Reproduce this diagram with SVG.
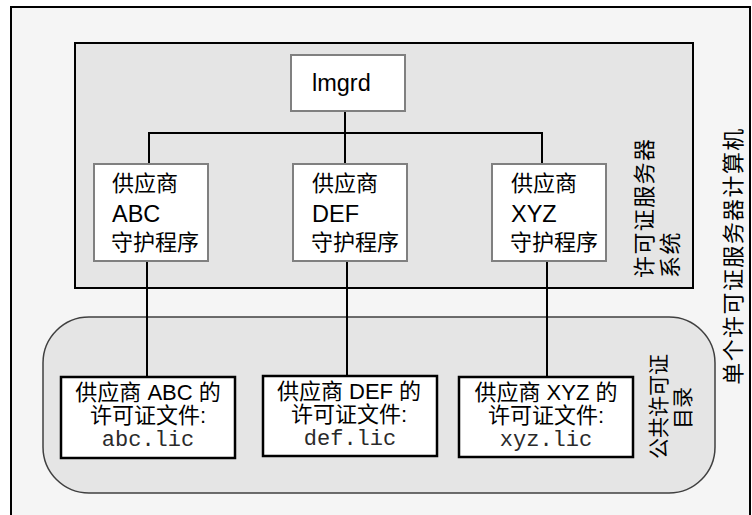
<svg xmlns="http://www.w3.org/2000/svg" width="752" height="515" viewBox="0 0 752 515">
<style>
.t{font-family:"Liberation Sans","Noto Sans CJK SC",sans-serif;font-size:22px;fill:#000}
.L{font-size:23.5px}
.m{font-family:"Liberation Mono","Noto Sans CJK SC",monospace;font-size:22px;fill:#2a2a2a}
.vend{fill:#fff;stroke:#808080;stroke-width:2}
.lic{fill:#fff;stroke:#000;stroke-width:2.5}
.c{fill:none;stroke:#000;stroke-width:2}
.rl{font-family:"Liberation Sans","Noto Sans CJK SC",sans-serif;font-size:22px;fill:#000;letter-spacing:1.4px}
.rs{font-family:"Liberation Sans","Noto Sans CJK SC",sans-serif;font-size:21px;fill:#000}
</style>
<rect x="0" y="0" width="752" height="515" fill="#fff"/>
<g id="machine">
<rect x="11" y="7" width="739" height="515" fill="#f5f5f5" stroke="#000" stroke-width="2"/>
<text class="rl" transform="translate(741,256) rotate(-90)" text-anchor="middle">单个许可证服务器计算机</text>
</g>
<g id="server-system">
<rect x="75" y="43" width="618" height="245" fill="#e5e5e5" stroke="#000" stroke-width="2"/>
<text class="rl" transform="translate(651.5,278) rotate(-90)">许可证服务器</text>
<text class="rl" transform="translate(678,278) rotate(-90)">系统</text>
</g>
<g id="license-dir">
<rect x="43" y="317" width="672" height="176" rx="46" ry="46" fill="#e5e5e5" stroke="#404040" stroke-width="1.5"/>
<text class="rs" transform="translate(666,406.5) rotate(-90)" text-anchor="middle">公共许可证</text>
<text class="rs" transform="translate(690,408) rotate(-90)" text-anchor="middle">目录</text>
</g>
<g id="connectors">
<path class="c" d="M345 111 V164 M149 164 V133 H542 V164"/>
<path class="c" d="M147 261 V377 M347 261 V376 M547 261 V377"/>
</g>
<g id="lmgrd">
<rect class="vend" x="291" y="55" width="114" height="56"/>
<text class="t L" x="312" y="91">lmgrd</text>
</g>
<g id="vendor-abc">
<rect class="vend" x="94" y="164" width="114" height="97"/>
<text class="t" x="112" y="191">供应商</text>
<text class="t L" x="112" y="222">ABC</text>
<text class="t" x="111" y="250">守护程序</text>
</g>
<g id="vendor-def">
<rect class="vend" x="293" y="164" width="114" height="97"/>
<text class="t" x="312" y="191">供应商</text>
<text class="t L" x="312" y="222">DEF</text>
<text class="t" x="311" y="250">守护程序</text>
</g>
<g id="vendor-xyz">
<rect class="vend" x="492" y="164" width="114" height="97"/>
<text class="t" x="511" y="191">供应商</text>
<text class="t L" x="511" y="222">XYZ</text>
<text class="t" x="510" y="250">守护程序</text>
</g>
<g id="file-abc">
<rect class="lic" x="61" y="377" width="174" height="81"/>
<text class="t" x="148" y="400" text-anchor="middle">供应商 ABC 的</text>
<text class="t" x="148" y="423" text-anchor="middle">许可证文件:</text>
<text class="m" x="148" y="446" text-anchor="middle">abc.lic</text>
</g>
<g id="file-def">
<rect class="lic" x="263" y="376" width="174" height="80"/>
<text class="t" x="349" y="399" text-anchor="middle">供应商 DEF 的</text>
<text class="t" x="349" y="422" text-anchor="middle">许可证文件:</text>
<text class="m" x="350" y="445" text-anchor="middle">def.lic</text>
</g>
<g id="file-xyz">
<rect class="lic" x="459" y="377" width="174" height="80"/>
<text class="t" x="546" y="400" text-anchor="middle">供应商 XYZ 的</text>
<text class="t" x="546" y="423" text-anchor="middle">许可证文件:</text>
<text class="m" x="546" y="446" text-anchor="middle">xyz.lic</text>
</g>
</svg>
